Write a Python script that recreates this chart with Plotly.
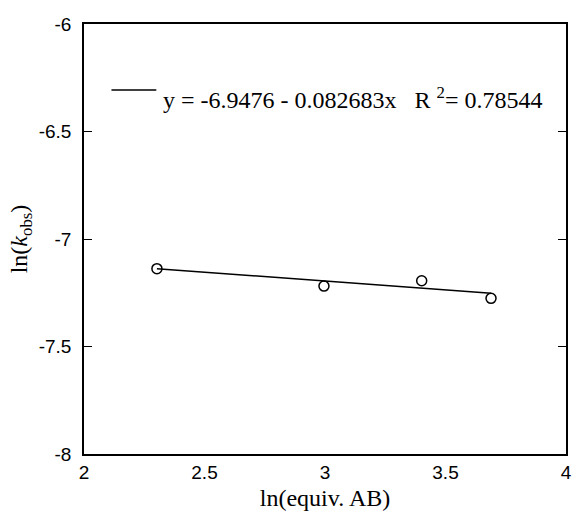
import plotly.graph_objects as go

# ln of equivalents of AB and the measured ln(k_obs)
ln_equiv = [2.3026, 2.9957, 3.4012, 3.6889]
ln_kobs = [-7.138, -7.219, -7.194, -7.276]

# linear fit coefficients as reported
intercept = -6.9476
slope = -0.082683
r_squared = 0.78544

x_ticks = [2, 2.5, 3, 3.5, 4]
y_ticks = [-8, -7.5, -7, -6.5, -6]

fit_x = [min(ln_equiv), max(ln_equiv)]
fit_y = [intercept + slope * v for v in fit_x]

fig = go.Figure()
fig.add_trace(go.Scatter(
    x=fit_x, y=fit_y, mode="lines",
    line=dict(color="black", width=1.5),
    showlegend=False, hoverinfo="skip",
))
fig.add_trace(go.Scatter(
    x=ln_equiv, y=ln_kobs, mode="markers",
    marker=dict(symbol="circle-open", size=10, color="black", line=dict(width=1.5)),
    showlegend=False,
))

serif = "Liberation Serif, Times New Roman, serif"
sans = "Liberation Sans, Arial, sans-serif"

# legend swatch and equation text
fig.add_shape(type="line", xref="paper", yref="paper",
              x0=0.057, x1=0.150, y0=0.8465, y1=0.8465,
              line=dict(color="black", width=1.5))
fig.add_annotation(
    xref="paper", yref="paper", x=0.160, y=0.828,
    xanchor="left", yanchor="middle", showarrow=False,
    text=f"y = {intercept} - {abs(slope)}x\u00a0\u00a0\u00a0R <sup>2</sup>= {r_squared}",
    font=dict(family=serif, size=24, color="black"),
)

fig.update_xaxes(
    range=[2, 4], tickvals=x_ticks, ticktext=[f"{v:g}" for v in x_ticks],
    showline=True, linecolor="black", linewidth=1.5, mirror=True,
    ticks="", showgrid=False, zeroline=False,
    tickfont=dict(family=sans, size=19, color="black"),
    title=dict(text="ln(equiv. AB)", font=dict(family=serif, size=24, color="black"), standoff=8),
)
fig.update_yaxes(
    range=[-8, -6], tickvals=y_ticks, ticktext=[f"{v:g}" for v in y_ticks],
    showline=True, linecolor="black", linewidth=1.5, mirror="ticks",
    ticks="inside", ticklen=8, tickwidth=1.2, tickcolor="black",
    showgrid=False, zeroline=False, ticklabelstandoff=7,
    tickfont=dict(family=sans, size=19, color="black"),
    title=dict(text="ln(<i>k</i><sub>obs</sub>)", font=dict(family=serif, size=24, color="black"), standoff=4),
)

fig.update_layout(
    width=576, height=514,
    margin=dict(l=84, r=4, t=24, b=60),
    paper_bgcolor="white", plot_bgcolor="white",
)

fig.write_html("out.html")
